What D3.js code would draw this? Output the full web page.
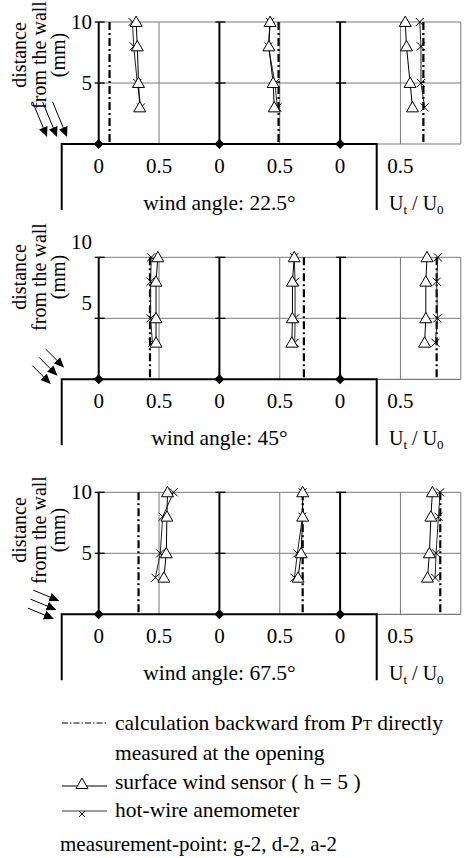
<!DOCTYPE html>
<html><head><meta charset="utf-8">
<script src="https://cdn.jsdelivr.net/npm/d3@7"></script>
<style>body{margin:0;background:#fff}svg{display:block}</style>
</head><body>
<svg id="c" width="465" height="858"></svg>
<script>
// ---------- data ----------
const windAngles = ["22.5°", "45°", "67.5°"];
const heights = [10, 8, 5, 3];               // distance from the wall (mm)
const yTickValues = [5, 10];
const yTickLabels = ["5", "10"];
const xTickValues = [0, 0.5];
const xTickLabels = ["0", "0.5"];
// calculation backward from PT (one value per sub-panel)
const calc22 = [0.09, 0.49, 0.69];
const calc45 = [0.425, 0.70, 0.80];
const calc67 = [0.33, 0.69, 0.83];
// surface wind sensor (h = 5), values at heights 10, 8, 5, 3
const sensor22 = [[0.31, 0.32, 0.33, 0.34], [0.42, 0.41, 0.445, 0.455], [0.54, 0.55, 0.58, 0.60]];
const sensor45 = [[0.49, 0.475, 0.475, 0.475], [0.62, 0.605, 0.605, 0.60], [0.72, 0.71, 0.71, 0.70]];
const sensor67 = [[0.57, 0.565, 0.56, 0.54], [0.69, 0.69, 0.677, 0.652], [0.765, 0.752, 0.74, 0.724]];
// hot-wire anemometer
const hot22 = [[0.28, 0.29, 0.32, 0.35], [0.42, 0.405, 0.46, 0.48], [0.66, 0.67, 0.67, 0.70]];
const hot45 = [[0.435, 0.43, 0.43, 0.445], [0.62, 0.627, 0.627, 0.624], [0.81, 0.80, 0.806, 0.79]];
const hot67 = [[0.62, 0.53, 0.51, 0.47], [0.69, 0.688, 0.646, 0.622], [0.828, 0.815, 0.795, 0.787]];

const calcAll = [calc22, calc45, calc67];
const sensorAll = [sensor22, sensor45, sensor67];
const hotAll = [hot22, hot45, hot67];

// ---------- layout ----------
const FONT = "'Liberation Serif','Times New Roman',serif";
const svg = d3.select("#c");
const bases = [144, 379.3, 614.3];
const labelShift = [0, -15, 0];
const titleCenter = [55, 277, 530];
const arrowHeads = [
  [[46.7, 136], [56.7, 136], [66.7, 136]],
  [[63.3, 366.7], [56.7, 375], [50, 383.3]],
  [[58.3, 600.5], [55.5, 609.5], [53, 618.5]]
];
const arrowDeg = [22.5, 45, 67.5];
const arrowLen = [37, 25, 27];
const gx = d3.scaleLinear().domain([0, 3]).range([98.7, 460.8]);
const GREY = "#7a7a7a";

const defs = svg.append("defs");
defs.append("marker").attr("id", "ah").attr("viewBox", "0 0 10 10")
  .attr("refX", 9).attr("refY", 5).attr("markerWidth", 10).attr("markerHeight", 10)
  .attr("markerUnits", "userSpaceOnUse").attr("orient", "auto")
  .append("path").attr("d", "M0,0.5 L10,5 L0,9.5 Z").attr("fill", "#000");

const tri = d3.symbol().type(d3.symbolTriangle).size(62);
const crossPath = "M-4,-4L4,4M-4,4L4,-4";

windAngles.forEach((wa, pi) => {
  const base = bases[pi];
  const ys = d3.scaleLinear().domain([0, 10]).range([base, base - 122]);
  const g = svg.append("g");

  // grey grid
  yTickValues.forEach(v => g.append("line")
    .attr("x1", gx(0)).attr("x2", gx(3)).attr("y1", ys(v)).attr("y2", ys(v))
    .attr("stroke", GREY).attr("stroke-width", 1));
  [0.5, 1.5, 2.5, 3].forEach(v => g.append("line")
    .attr("x1", gx(v)).attr("x2", gx(v)).attr("y1", ys(10)).attr("y2", ys(0))
    .attr("stroke", GREY).attr("stroke-width", 1));
  g.append("line").attr("x1", gx(2)).attr("x2", gx(3)).attr("y1", ys(0)).attr("y2", ys(0))
    .attr("stroke", GREY).attr("stroke-width", 1.2);

  // thick sub-panel axes
  [0, 1, 2].forEach(i => {
    g.append("line").attr("x1", gx(i)).attr("x2", gx(i)).attr("y1", ys(10)).attr("y2", ys(0))
      .attr("stroke", "#000").attr("stroke-width", 2);
    yTickValues.forEach(v => g.append("line")
      .attr("x1", gx(i) - 4).attr("x2", gx(i) + 6).attr("y1", ys(v)).attr("y2", ys(v))
      .attr("stroke", "#000").attr("stroke-width", 1.3));
  });

  // wall outline
  g.append("path")
    .attr("d", `M61.7,${base + 66}V${base}H376.7V${base + 66}`)
    .attr("fill", "none").attr("stroke", "#000").attr("stroke-width", 2);

  // calculation (dash-dot)
  calcAll[pi].forEach((v, i) => g.append("line")
    .attr("x1", gx(i + v)).attr("x2", gx(i + v)).attr("y1", ys(10)).attr("y2", ys(0))
    .attr("stroke", "#000").attr("stroke-width", 2.2)
    .attr("stroke-dasharray", "8,3,2,3"));

  // series lines
  const line = i => d3.line().x(d => gx(i + d[0])).y(d => ys(d[1]));
  hotAll[pi].forEach((vals, i) => {
    const pts = vals.map((v, k) => [v, heights[k]]);
    g.append("path").attr("d", line(i)(pts)).attr("fill", "none")
      .attr("stroke", "#222").attr("stroke-width", 1);
  });
  sensorAll[pi].forEach((vals, i) => {
    const pts = vals.map((v, k) => [v, heights[k]]);
    g.append("path").attr("d", line(i)(pts)).attr("fill", "none")
      .attr("stroke", "#000").attr("stroke-width", 1);
  });
  hotAll[pi].forEach((vals, i) => vals.forEach((v, k) => g.append("path")
    .attr("d", crossPath).attr("transform", `translate(${gx(i + v)},${ys(heights[k])})`)
    .attr("stroke", "#000").attr("stroke-width", 1).attr("fill", "none")));
  sensorAll[pi].forEach((vals, i) => vals.forEach((v, k) => g.append("path")
    .attr("d", tri).attr("transform", `translate(${gx(i + v)},${ys(heights[k]) + 1})`)
    .attr("stroke", "#000").attr("stroke-width", 1).attr("fill", "#fff")));

  // diamonds at origins
  [0, 1, 2].forEach(i => g.append("path")
    .attr("d", "M0,-5L5,0L0,5L-5,0Z").attr("transform", `translate(${gx(i)},${ys(0)})`)
    .attr("fill", "#000"));

  // tick labels
  yTickValues.forEach((v, k) => g.append("text")
    .attr("x", 92).attr("y", ys(v) + labelShift[pi]).attr("dy", "0.34em")
    .attr("text-anchor", "end").attr("font-family", FONT).attr("font-size", 21)
    .text(yTickLabels[k]));
  [0, 1, 2].forEach(i => xTickValues.forEach((v, k) => g.append("text")
    .attr("x", gx(i + v)).attr("y", base + 29).attr("text-anchor", "middle")
    .attr("font-family", FONT).attr("font-size", 21).text(xTickLabels[k])));

  g.append("text").attr("x", gx(1)).attr("y", base + 66).attr("text-anchor", "middle")
    .attr("font-family", FONT).attr("font-size", 21.5).text("wind angle: " + wa);

  const ut = g.append("text").attr("x", 389).attr("y", base + 66)
    .attr("font-family", FONT).attr("font-size", 20);
  ut.append("tspan").text("U");
  ut.append("tspan").attr("font-size", 13).attr("dy", 4).text("t");
  ut.append("tspan").attr("dy", -4).text(" / U");
  ut.append("tspan").attr("font-size", 13).attr("dy", 4).text("0");

  // y title
  const tg = g.append("g").attr("transform", `translate(26,${titleCenter[pi]}) rotate(-90)`);
  ["distance", "from the wall", "(mm)"].forEach((t, k) => tg.append("text")
    .attr("x", 0).attr("y", k * 19.5).attr("text-anchor", "middle")
    .attr("font-family", FONT).attr("font-size", 20).text(t));

  // wind arrows
  const a = arrowDeg[pi] * Math.PI / 180;
  arrowHeads[pi].forEach(h => g.append("line")
    .attr("x1", h[0] - arrowLen[pi] * Math.sin(a)).attr("y1", h[1] - arrowLen[pi] * Math.cos(a))
    .attr("x2", h[0]).attr("y2", h[1])
    .attr("stroke", "#000").attr("stroke-width", 1).attr("marker-end", "url(#ah)"));
});

// ---------- legend ----------
const lg = svg.append("g").attr("font-family", FONT).attr("font-size", 21.5);
lg.append("line").attr("x1", 62).attr("x2", 107).attr("y1", 723).attr("y2", 723)
  .attr("stroke", "#000").attr("stroke-width", 1.2).attr("stroke-dasharray", "6,2,1.5,2");
const t1 = lg.append("text").attr("x", 115).attr("y", 730);
t1.append("tspan").text("calculation backward from P");
t1.append("tspan").attr("font-size", 15).text("T");
t1.append("tspan").text(" directly");
lg.append("text").attr("x", 115).attr("y", 760).text("measured at the opening");
lg.append("line").attr("x1", 62).attr("x2", 107).attr("y1", 786).attr("y2", 786)
  .attr("stroke", "#000").attr("stroke-width", 1);
lg.append("path").attr("d", tri).attr("transform", "translate(82,785)")
  .attr("stroke", "#000").attr("fill", "#fff");
lg.append("text").attr("x", 115).attr("y", 789).text("surface wind sensor ( h = 5 )");
lg.append("line").attr("x1", 62).attr("x2", 107).attr("y1", 811).attr("y2", 811)
  .attr("stroke", GREY).attr("stroke-width", 1.3);
lg.append("path").attr("d", "M-3,-3L3,3M-3,3L3,-3").attr("transform", "translate(82,814)")
  .attr("stroke", "#000").attr("fill", "none");
lg.append("text").attr("x", 115).attr("y", 817).text("hot-wire anemometer");
lg.append("text").attr("x", 60).attr("y", 851).attr("font-size", 21).text("measurement-point: g-2, d-2, a-2");
</script>
</body></html>
